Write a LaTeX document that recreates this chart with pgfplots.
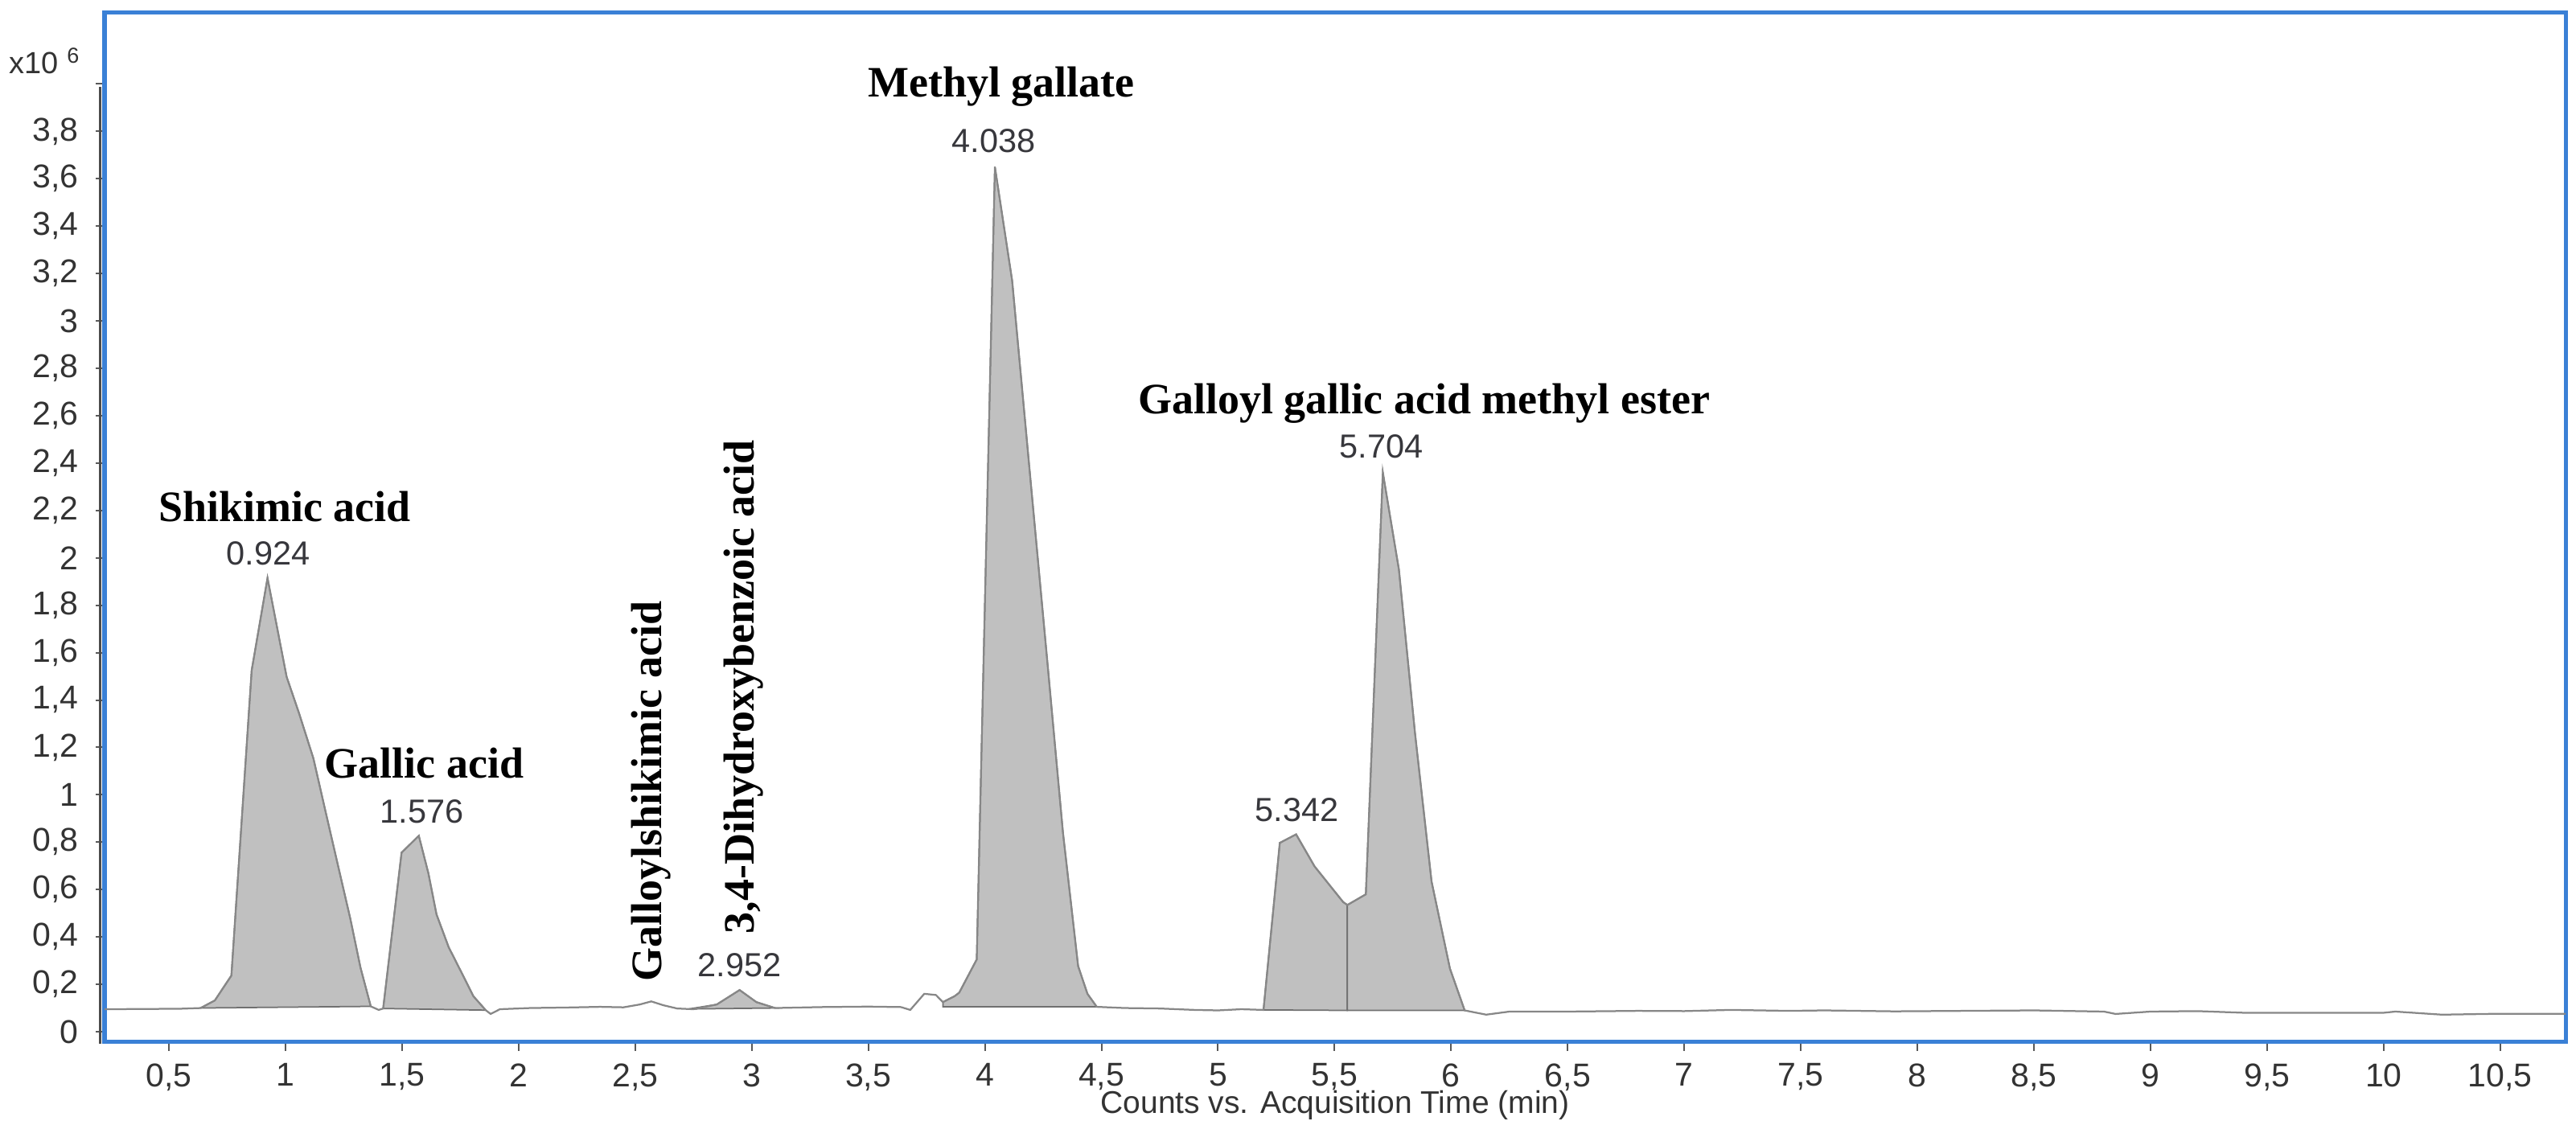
\documentclass[border=0pt]{standalone}
\usepackage{fontspec}
\setmainfont{Liberation Serif}
\newfontfamily\arial{Liberation Sans}
\usepackage{pgfplots}
\pgfplotsset{compat=1.18}
\definecolor{frameblue}{RGB}{58,128,214}
\definecolor{peakfill}{RGB}{192,192,192}
\definecolor{peakline}{RGB}{112,112,112}
\definecolor{tracecol}{RGB}{135,135,135}
\definecolor{numcol}{RGB}{55,55,60}
\begin{document}
\begin{tikzpicture}
\useasboundingbox (-26pt,-21.6pt) rectangle (614.6pt,259.2pt);
\begin{axis}[
  at={(0,0)}, anchor=south west,
  width=612pt, height=256pt, scale only axis,
  xmin=0.224, xmax=10.78, ymin=-0.044, ymax=4.30,
  axis line style={frameblue, line width=1pt},
  tick pos=left, tick align=outside, major tick length=2.2pt,
  tick style={black!65, line width=0.4pt},
  xtick={0.5,1,1.5,2,2.5,3,3.5,4,4.5,5,5.5,6,6.5,7,7.5,8,8.5,9,9.5,10,10.5},
  xticklabels={{0,5},1,{1,5},2,{2,5},3,{3,5},4,{4,5},5,{5,5},6,{6,5},7,{7,5},8,{8,5},9,{9,5},10,{10,5}},
  ytick={0,0.2,0.4,0.6,0.8,1,1.2,1.4,1.6,1.8,2,2.2,2.4,2.6,2.8,3,3.2,3.4,3.6,3.8,4},
  yticklabels={0,{0,2},{0,4},{0,6},{0,8},1,{1,2},{1,4},{1,6},{1,8},2,{2,2},{2,4},{2,6},{2,8},3,{3,2},{3,4},{3,6},{3,8},{}},
  ticklabel style={font=\arial\fontsize{8.2}{9}\selectfont, text=black!80},
  xticklabel style={yshift=0.4pt},
  yticklabel style={xshift=-0.8pt},
  clip=false,
]
% integrated peak areas
\addplot[fill=peakfill, draw=peakline, line width=0.35pt] coordinates {
(0.636,0.100) (0.697,0.132) (0.768,0.237) (0.855,1.525) (0.923,1.915) (1.005,1.498) (1.059,1.342) (1.120,1.153) (1.172,0.929) (1.225,0.703) (1.278,0.478) (1.322,0.270) (1.366,0.107)} -- cycle;
\addplot[fill=peakfill, draw=peakline, line width=0.35pt] coordinates {
(1.419,0.098) (1.498,0.756) (1.572,0.827) (1.613,0.669) (1.648,0.495) (1.700,0.357) (1.753,0.254) (1.806,0.150) (1.859,0.091)} -- cycle;
\addplot[fill=peakfill, draw=peakline, line width=0.35pt] coordinates {
(2.73,0.096) (2.85,0.115) (2.948,0.176) (3.02,0.125) (3.10,0.100)} -- cycle;
\addplot[fill=peakfill, draw=peakline, line width=0.35pt] coordinates {
(3.82,0.105) (3.82,0.125) (3.87,0.150) (3.89,0.165) (3.965,0.305) (4.043,3.650) (4.117,3.170) (4.190,2.390) (4.270,1.540) (4.335,0.840) (4.400,0.277) (4.440,0.160) (4.480,0.105)} -- cycle;
\addplot[fill=peakfill, draw=peakline, line width=0.35pt] coordinates {
(5.195,0.092) (5.265,0.797) (5.335,0.833) (5.414,0.698) (5.537,0.547) (5.555,0.535) (5.555,0.090)} -- cycle;
\addplot[fill=peakfill, draw=peakline, line width=0.35pt] coordinates {
(5.555,0.090) (5.555,0.535) (5.634,0.580) (5.707,2.360) (5.776,1.950) (5.845,1.260) (5.916,0.634) (5.995,0.266) (6.058,0.090)} -- cycle;
% full trace
\addplot[tracecol, line width=0.45pt] coordinates {
(0.224,0.095) (0.40,0.096) (0.55,0.097) (0.636,0.100) (0.697,0.132) (0.768,0.237) (0.855,1.525) (0.923,1.915) (1.005,1.498) (1.059,1.342) (1.120,1.153) (1.172,0.929) (1.225,0.703) (1.278,0.478) (1.322,0.270) (1.366,0.107) (1.40,0.092) (1.419,0.098) (1.498,0.756) (1.572,0.827) (1.613,0.669) (1.648,0.495) (1.700,0.357) (1.753,0.254) (1.806,0.150) (1.859,0.091) (1.88,0.075) (1.92,0.095) (2.05,0.100) (2.20,0.102) (2.35,0.105) (2.45,0.103) (2.52,0.115) (2.569,0.128) (2.62,0.112) (2.68,0.098) (2.75,0.095) (2.85,0.115) (2.948,0.176) (3.02,0.125) (3.10,0.100) (3.30,0.104) (3.50,0.106) (3.64,0.104) (3.68,0.092) (3.74,0.160) (3.79,0.155) (3.82,0.125) (3.87,0.150) (3.89,0.165) (3.965,0.305) (4.043,3.650) (4.117,3.170) (4.190,2.390) (4.270,1.540) (4.335,0.840) (4.400,0.277) (4.440,0.160) (4.480,0.105) (4.60,0.100) (4.75,0.098) (4.90,0.092) (5.00,0.090) (5.10,0.095) (5.195,0.092) (5.265,0.797) (5.335,0.833) (5.414,0.698) (5.537,0.547) (5.555,0.535) (5.634,0.580) (5.707,2.360) (5.776,1.950) (5.845,1.260) (5.916,0.634) (5.995,0.266) (6.058,0.090) (6.15,0.072) (6.25,0.085) (6.50,0.085) (6.80,0.088) (7.00,0.087) (7.20,0.092) (7.45,0.088) (7.60,0.090) (7.90,0.086) (8.20,0.088) (8.50,0.090) (8.80,0.085) (8.85,0.075) (9.00,0.085) (9.20,0.087) (9.40,0.080) (9.70,0.080) (10.00,0.080) (10.05,0.085) (10.25,0.072) (10.50,0.076) (10.78,0.076)};
% compound labels
\begin{scope}[every node/.style={font=\bfseries\fontsize{10.8}{12}\selectfont, inner sep=0pt}]
\node at (axis cs:0.997,2.217) {Shikimic acid};
\node at (axis cs:1.595,1.135) {Gallic acid};
\node[rotate=90] at (axis cs:2.569,1.015) {Galloylshikimic acid};
\node[rotate=90] at (axis cs:2.965,1.456) {3,4-Dihydroxybenzoic acid};
\node at (axis cs:4.07,3.99) {Methyl gallate};
\node at (axis cs:5.884,2.65) {Galloyl gallic acid methyl ester};
\end{scope}
\begin{scope}[every node/.style={font=\arial\fontsize{8.3}{9}\selectfont, text=numcol, inner sep=0pt}]
\node at (axis cs:0.927,2.02) {0.924};
\node at (axis cs:1.586,0.93) {1.576};
\node at (axis cs:2.948,0.28) {2.952};
\node at (axis cs:4.037,3.76) {4.038};
\node at (axis cs:5.700,2.47) {5.704};
\node at (axis cs:5.338,0.935) {5.342};
\end{scope}
\end{axis}
% dark y axis line beside the blue frame
\draw[black!70, line width=0.5pt] (-1.1pt,-0.5pt) -- (-1.1pt,237.5pt);
% x axis title
\node[font=\arial\fontsize{7.8}{9}\selectfont, text=black!80, inner sep=0pt] at (306pt,-15.6pt) {Counts vs. Acquisition Time (min)};
% exponent
\node[font=\arial\fontsize{7.6}{8}\selectfont, text=black!80, inner sep=0pt, anchor=west] at (-24pt,244pt) {x10\hspace{2.2pt}\raisebox{2.6pt}{\fontsize{5.4}{6}\selectfont 6}};
\end{tikzpicture}
\end{document}
